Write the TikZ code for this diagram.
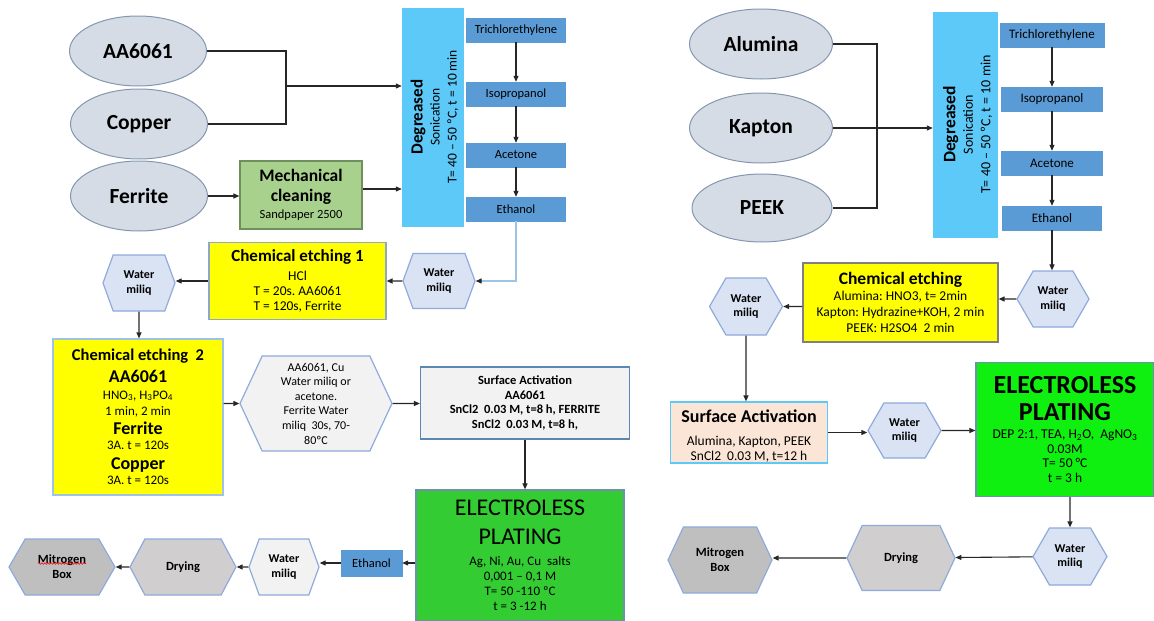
\documentclass[tikz,border=0pt]{standalone}
\usepackage{fontspec}
\setmainfont{Carlito}
\usepackage{xcolor}
\usepackage{tikz}
\usetikzlibrary{arrows.meta, positioning, shapes.geometric, shapes.symbols, decorations.pathmorphing}
\setlength{\lineskiplimit}{-40pt}
\frenchspacing
\newcommand{\fsz}[2]{\fontsize{#1}{#2}\selectfont}
\definecolor{platedark}{HTML}{262626}
\definecolor{ellfill}{HTML}{D6DCE5}
\definecolor{ellline}{HTML}{8497B0}
\definecolor{degblue}{HTML}{5DC9F8}
\definecolor{solvblue}{HTML}{5B9BD5}
\definecolor{etchyellow}{HTML}{FFFF00}
\definecolor{etchline}{HTML}{8EA9C8}
\definecolor{mechgreen}{HTML}{A9D18E}
\definecolor{mechline}{HTML}{6F8F5C}
\definecolor{waterfill}{HTML}{DAE3F3}
\definecolor{waterline}{HTML}{8FAADC}
\definecolor{palegray}{HTML}{F2F2F2}
\definecolor{drygray}{HTML}{D0CECE}
\definecolor{boxgray}{HTML}{BFBFBF}
\definecolor{saline}{HTML}{5B87B5}
\definecolor{plategreen}{HTML}{33CC33}
\definecolor{limegreen}{HTML}{10F010}
\definecolor{elline}{HTML}{6F8FAF}
\definecolor{peach}{HTML}{FBE5D6}
\definecolor{feedblue}{HTML}{9DC3E6}
\tikzset{
  material/.style={ellipse, draw=ellline, fill=ellfill, line width=1pt, inner sep=0pt,
                   minimum width=137pt, minimum height=70pt, font=\bfseries\fsz{21.5}{24}},
  degbox/.style={draw=degblue, fill=degblue, minimum width=61pt, minimum height=218pt},
  degtext/.style={rotate=90, align=center, inner sep=0pt, font=\fsz{13.5}{17}},
  solvent/.style={draw=solvblue, fill=solvblue, inner sep=1pt, minimum width=99pt,
                  minimum height=24pt, font=\fsz{12.5}{14}},
  box/.style={draw=etchline, line width=1.2pt, align=center, inner sep=2pt, font=\fsz{13.5}{15}},
  etchbox/.style={box, fill=etchyellow},
  hexa/.style={signal, signal to=west and east, signal pointer angle=120, draw=waterline,
               line width=1.2pt, align=center, inner sep=1pt, font=\fsz{12}{14.6}},
  waterhex/.style={hexa, fill=waterfill, minimum width=72pt, minimum height=55pt,
                   font=\bfseries\fsz{12}{14.5}},
  flow/.style={-{Triangle[length=6pt, width=5pt]}, line width=1.1pt, draw=platedark},
  pipe/.style={line width=1.1pt, draw=platedark},
  feed/.style={-{Triangle[length=6pt, width=5pt, color=platedark]}, line width=1.1pt, draw=feedblue},
  spell/.style={draw=red, line width=0.6pt, decorate,
                decoration={snake, amplitude=0.8pt, segment length=3pt}},
}
\begin{document}
\begin{tikzpicture}[x=1pt, y=-1pt]
  \useasboundingbox (0,0) rectangle (1154,621);
  % metals
  \node[material] (aa) at (138,51) {AA6061};
  \node[material] (cu) at (139,124) {Copper};
  \node[material] (fe) at (139,196) {Ferrite};
  \coordinate (jn1) at (286,86);
  \node[box, fill=mechgreen, draw=mechline, minimum width=122pt, minimum height=68pt,
        font=\fsz{12.5}{15}] (mech) at (301,195)
    {\bfseries\fsz{17.5}{20}Mechanical\\[5pt]\bfseries\fsz{17.5}{20}cleaning\\[1.5pt]Sandpaper 2500};
  % degreasing
  \node[degbox] (deg1) at (432.5,117) {};
  \node[degtext] (deg1t) at ([xshift=2pt]deg1.center)
    {\bfseries\fsz{17}{20}Degreased\\Sonication\\T= 40 -- 50 ºC, t = 10 min};
  \node[solvent] (tri1) at (516,30) {Trichlorethylene};
  \node[solvent] (iso1) at (516,94) {Isopropanol};
  \node[solvent] (ace1) at (516,155) {Acetone};
  \node[solvent] (eth1) at (516,209) {Ethanol};
  % etching
  \node[waterhex, signal pointer angle=140] (wm1) at (439,281) {Water\\miliq};
  \node[etchbox, minimum width=177pt, minimum height=77pt] (ce1) at (297.5,281)
    {\bfseries\fsz{17}{20}Chemical etching 1\\[3.5pt]HCl\\T = 20s. AA6061\\T = 120s, Ferrite};
  \node[waterhex, signal pointer angle=140, minimum height=56pt] (wm2) at (139,283) {Water\\miliq};
  \node[etchbox, draw=feedblue, minimum width=170pt, minimum height=156pt, font=\fsz{13}{15}] (ce2) at (138,417)
    {\bfseries\fsz{16.5}{20}Chemical etching~ 2\\[6.5pt]\bfseries\fsz{18}{20}AA6061\\[1.7pt]HNO\textsubscript{3}, H\textsubscript{3}PO\textsubscript{4}\\[1pt]1 min, 2 min\\[4.6pt]\bfseries\fsz{18}{20}Ferrite\\[-0.6pt]3A. t = 120s\\[5.6pt]\bfseries\fsz{18}{20}Copper\\3A. t = 120s};
  \node[hexa, fill=palegray, signal pointer angle=130, minimum width=152pt, minimum height=95pt]
    (hx1) at (316,403.5) {AA6061, Cu\\Water miliq or\\acetone.\\Ferrite Water\\miliq~ 30s, 70-\\80ºC};
  \node[box, fill=palegray, draw=saline, minimum width=209pt, minimum height=72pt,
        font=\bfseries\fsz{12.5}{14.7}] (sa1) at (525,403)
    {Surface Activation\\AA6061\\SnCl2~ 0.03 M, t=8 h, FERRITE\\SnCl2~ 0.03 M, t=8 h,};
  % plating and finishing
  \node[box, fill=plategreen, draw=elline, minimum width=208pt, minimum height=131pt, font=\fsz{13}{15}]
    (el1) at (520,555.5)
    {\fsz{24}{28}ELECTROLESS\\[14pt]\fsz{24}{28}PLATING\\[5.5pt]Ag, Ni, Au, Cu~ salts\\0,001 -- 0,1 M\\T= 50 -110 ºC\\t = 3 -12 h};
  \node[solvent, minimum width=61pt, minimum height=26pt] (eth2) at (371.5,563) {Ethanol};
  \node[waterhex, fill=palegray, signal pointer angle=140, minimum width=70pt, minimum height=56pt]
    (wm3) at (284,567) {Water\\miliq};
  \node[waterhex, fill=drygray, signal pointer angle=124, minimum width=106pt, minimum height=56pt,
        font=\bfseries\fsz{12.5}{15}] (dr1) at (183,567) {Drying};
  \node[waterhex, fill=boxgray, minimum width=106pt, minimum height=56pt,
        font=\bfseries\fsz{12.5}{15}] (mt1) at (62,567) {Mitrogen\\Box};
  \draw[spell] ([xshift=-24pt, yshift=3.5pt]mt1.center) -- ([xshift=24pt, yshift=3.5pt]mt1.center);
  % left connectors
  \draw[pipe] (aa) -| (jn1) |- (cu);
  \draw[flow] (jn1) -- (jn1 -| deg1.west);
  \draw[flow] (fe) -- (fe -| mech.west);
  \draw[flow] ([yshift=6pt]mech.east) -- ([yshift=6pt]mech.east -| deg1.west);
  \draw[flow] (tri1) -- (iso1);
  \draw[flow] (iso1) -- (ace1);
  \draw[flow] (ace1) -- (eth1);
  \draw[feed] (eth1) |- (wm1);
  \draw[flow] (wm1) -- (ce1);
  \draw[flow] (ce1.west) -- (ce1.west -| wm2.east);
  \draw[flow] (wm2) -- (wm2 |- ce2.north);
  \draw[flow] (hx1 -| ce2.east) -- (hx1);
  \draw[flow] (hx1) -- (hx1 -| sa1.west);
  \draw[flow] (sa1) -- (sa1 |- el1.north);
  \draw[flow] (eth2 -| el1.west) -- (eth2);
  \draw[flow] (eth2) -- (eth2 -| wm3.east);
  \draw[flow] (wm3) -- (dr1);
  \draw[flow] (dr1) -- (mt1);

  % polymers and ceramics
  \node[material, minimum width=143pt] (al) at (761,44) {Alumina};
  \node[material, minimum width=143pt] (kp) at (761,128) {Kapton};
  \node[material, minimum width=140pt, minimum height=68pt] (pk) at (762,208) {PEEK};
  \coordinate (jn2) at (877,128);
  \node[degbox, minimum width=64pt, minimum height=225pt] (deg2) at (965,124.5) {};
  \node[degtext, font=\fsz{14}{17.5}] (deg2t) at ([xshift=2.5pt]deg2.center)
    {\bfseries\fsz{17.5}{20}Degreased\\Sonication\\T= 40 -- 50 ºC, t = 10 min};
  \node[solvent, minimum width=104pt, font=\fsz{13}{14}] (tri2) at (1052,35) {Trichlorethylene};
  \node[solvent, minimum width=101pt, font=\fsz{13}{14}] (iso2) at (1052,99) {Isopropanol};
  \node[solvent, minimum width=101pt, font=\fsz{13}{14}] (ace2) at (1052,163) {Acetone};
  \node[solvent, minimum width=99pt, font=\fsz{13}{14}] (eth3) at (1052,218) {Ethanol};
  \node[waterhex, minimum height=56pt] (wm4) at (1053,299) {Water\\miliq};
  \node[etchbox, draw=gray, minimum width=195pt, minimum height=79pt, font=\fsz{13.5}{16}] (ce3) at (900.5,302.5)
    {\bfseries\fsz{17.5}{20}Chemical etching\\Alumina: HNO3, t= 2min\\Kapton: Hydrazine+KOH, 2 min\\PEEK: H2SO4~ 2 min};
  \node[waterhex, minimum width=73pt, minimum height=57pt] (wm5) at (746,306.5) {Water\\miliq};
  \node[box, fill=peach, draw=degblue, minimum width=157pt, minimum height=61pt] (sa2) at (749,432.5) {};
  \node[align=center, inner sep=0pt, font=\fsz{13.5}{15}] (sa2t) at ([yshift=-3.5pt]sa2.center)
    {\bfseries\fsz{18}{20}Surface Activation\\[8.5pt]Alumina, Kapton, PEEK\\SnCl2~ 0.03 M, t=12 h};
  \node[waterhex, minimum width=73pt, minimum height=55pt] (wm6) at (904.5,430.5) {Water\\miliq};
  \node[box, fill=limegreen, draw=elline, minimum width=178pt, minimum height=134pt,
        font=\fsz{13.5}{14.7}] (el2) at (1065,429.5)
    {\bfseries\fsz{26}{28}ELECTROLESS\\[12.3pt]\bfseries\fsz{26}{28}PLATING\\[3.3pt]DEP 2:1, TEA, H\textsubscript{2}O,~ AgNO\textsubscript{3}\\0.03M\\T= 50 °C\\t = 3 h};
  \node[waterhex, minimum width=74pt, minimum height=57pt] (wm7) at (1070,556.5) {Water\\miliq};
  \node[waterhex, fill=drygray, signal pointer angle=130, minimum width=108pt, minimum height=65pt,
        font=\bfseries\fsz{12.5}{15}] (dr2) at (901,558) {Drying};
  \node[waterhex, fill=boxgray, signal pointer angle=130, minimum width=104pt, minimum height=66pt,
        font=\bfseries\fsz{12.5}{15}] (mt2) at (720,560) {Mitrogen\\Box};
  % right connectors
  \draw[pipe] (al) -| (jn2) |- (pk);
  \draw[flow] (kp) -- (kp -| deg2.west);
  \draw[flow] (tri2) -- (iso2);
  \draw[flow] (iso2) -- (ace2);
  \draw[flow] (ace2) -- (eth3);
  \draw[flow] (eth3) -- (eth3 |- wm4.north);
  \draw[flow] (wm4) -- (wm4 -| ce3.east);
  \draw[flow] (wm5 -| ce3.west) -- (wm5);
  \draw[flow] (wm5) -- (wm5 |- sa2.north);
  \draw[flow] (sa2) -- (sa2 -| wm6.west);
  \draw[flow] (wm6) -- (wm6 -| el2.west);
  \draw[flow] (wm7 |- el2.south) -- (wm7);
  \draw[flow] (wm7) -- (dr2);
  \draw[flow] (dr2) -- (dr2 -| mt2.east);
\end{tikzpicture}
\end{document}
